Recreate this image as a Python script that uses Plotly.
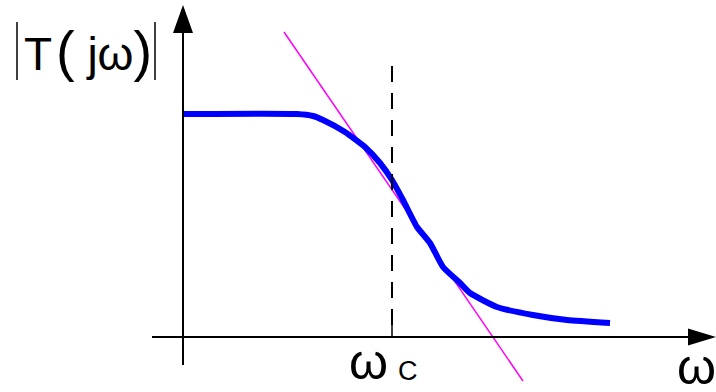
import plotly.graph_objects as go

# ---- data (units: offsets from the axis origin) ----
resp_w = [0, 114, 130, 140, 162, 182, 197, 209, 220, 234, 247, 260, 277, 287, 314, 350, 384, 427]
resp_mag = [223, 223, 221, 217, 205, 190, 174, 157, 137, 110, 94, 70, 54, 44, 30, 22, 17, 14]
asym_w = [101, 340]
asym_mag = [305, -44]
wc = 209
wc_top = 278

# axis extents
X_MIN, X_MAX = -183, 533
Y_MIN, Y_MAX = -55, 337
x_axis_start, x_axis_end = -31, 533
y_axis_start, y_axis_end = -28, 332
arrow_len, arrow_half = 28, 10

FONT = "Liberation Sans, Arial, sans-serif"

fig = go.Figure()

fig.add_trace(go.Scatter(x=asym_w, y=asym_mag, mode="lines",
                         line=dict(color="#FF00FF", width=1.5), hoverinfo="skip"))
fig.add_trace(go.Scatter(x=resp_w, y=resp_mag, mode="lines",
                         line=dict(color="#0000FF", width=6, shape="spline", smoothing=0.5),
                         hoverinfo="skip"))

shapes = []
# x axis
shapes.append(dict(type="line", x0=x_axis_start, x1=x_axis_end - arrow_len + 2, y0=0, y1=0,
                   line=dict(color="black", width=2)))
shapes.append(dict(type="path",
                   path=f"M {x_axis_end} 0 L {x_axis_end - arrow_len} {arrow_half * 0.85} "
                        f"L {x_axis_end - arrow_len} {-arrow_half * 0.85} Z",
                   fillcolor="black", line=dict(color="black", width=0)))
# y axis
shapes.append(dict(type="line", x0=0, x1=0, y0=y_axis_start, y1=y_axis_end - arrow_len + 2,
                   line=dict(color="black", width=2)))
shapes.append(dict(type="path",
                   path=f"M 0 {y_axis_end} L {-arrow_half} {y_axis_end - arrow_len} "
                        f"L {arrow_half} {y_axis_end - arrow_len} Z",
                   fillcolor="black", line=dict(color="black", width=0)))
# cutoff marker
shapes.append(dict(type="line", x0=wc, x1=wc, y0=12, y1=wc_top,
                   line=dict(color="black", width=2, dash="16px,11px")))
shapes.append(dict(type="line", x0=wc, x1=wc, y0=0, y1=12,
                   line=dict(color="black", width=1.5)))
# |  | bars of the label
for bx in (-166, -28):
    shapes.append(dict(type="line", x0=bx, x1=bx, y0=257, y1=315,
                       line=dict(color="black", width=1.5)))

P = "<span style='font-size:56px'>{}</span>"
annotations = [
    dict(x=-161, y=287, text="T\u200a" + P.format("(") + " jω" + P.format(")"),
         font=dict(size=46), xanchor="left"),
    dict(x=185.5, y=-25, text="ω", font=dict(size=50)),
    dict(x=225, y=-33.5, text="C", font=dict(size=27)),
    dict(x=513.5, y=-30, text="ω", font=dict(size=50)),
]
for a in annotations:
    a.setdefault("xanchor", "center")
    a.update(xref="x", yref="y", showarrow=False, yanchor="middle")
    a["font"].update(family=FONT, color="black")

fig.update_layout(
    width=716, height=392,
    margin=dict(l=0, r=0, t=0, b=0),
    paper_bgcolor="white", plot_bgcolor="white",
    showlegend=False,
    xaxis=dict(range=[X_MIN, X_MAX], visible=False, fixedrange=True),
    yaxis=dict(range=[Y_MIN, Y_MAX], visible=False, fixedrange=True),
    shapes=shapes, annotations=annotations,
)

fig.write_html("out.html", config={"displayModeBar": False},
               post_script="document.body.style.margin='0px';document.body.style.overflow='hidden';")
